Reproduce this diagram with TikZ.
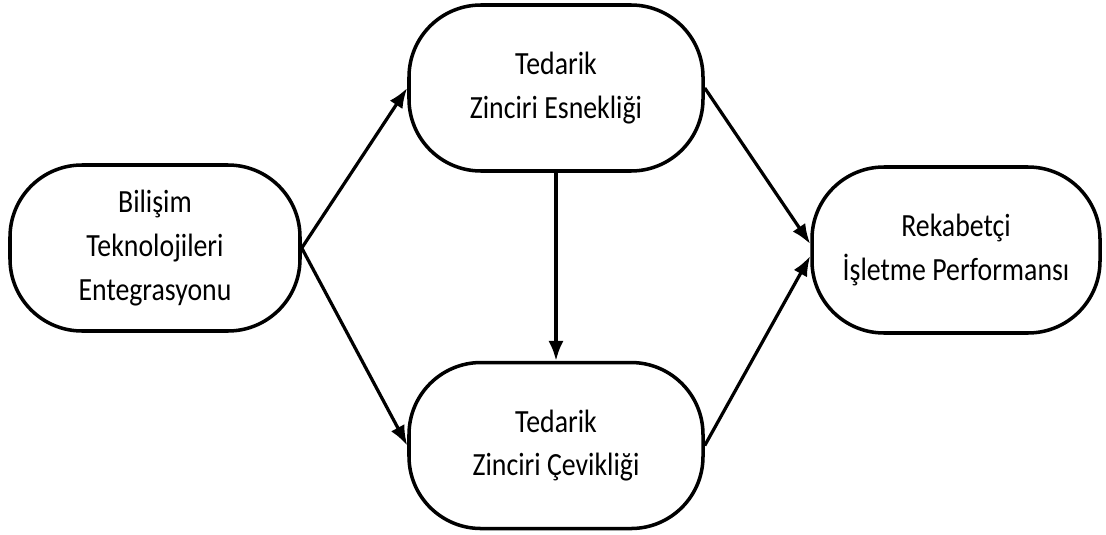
\documentclass[tikz,border=0pt]{standalone}
\usepackage{fontspec}
\setmainfont{Carlito}[FakeStretch=0.86]
\usetikzlibrary{arrows.meta}
\usetikzlibrary{positioning}
\tikzset{
pbox/.style={draw,
  line width=2.5pt,
    rounded corners=1.8cm,
    minimum width=7.35cm,
    minimum height=4.15cm,
    align=center,
    font=\fontsize{23}{31}\selectfont},
}
\tikzset{link/.style={line width=2.3pt,-{Latex[length=5mm,width=3.8mm]}}}

\begin{document}
\begin{tikzpicture}
    \useasboundingbox (0,0) rectangle (27.65,13.35);
    \node [pbox, minimum width=7.25cm] (bti) at (3.875,7.15) {Bilişim\\Teknolojileri\\Entegrasyonu};
    \node [pbox] (esn) at (13.9,11.15) {Tedarik\\Zinciri Esnekliği};
    \node [pbox, below=4.7cm of esn] (cev) {Tedarik\\Zinciri Çevikliği};
    \node [pbox, minimum width=7.2cm] (rek) at (23.9,7.1) {Rekabetçi\\İşletme Performansı};

  \draw [link] (bti.east) -- (esn.west);
  \draw [link] (bti.east) -- (cev.west);
  \draw [link] (esn) -- (cev);
  \draw [link] (esn.east) -- ([yshift=0.15cm]rek.west);
  \draw [link] (cev.east) -- ([yshift=-0.15cm]rek.west);
\end{tikzpicture}
\end{document}
